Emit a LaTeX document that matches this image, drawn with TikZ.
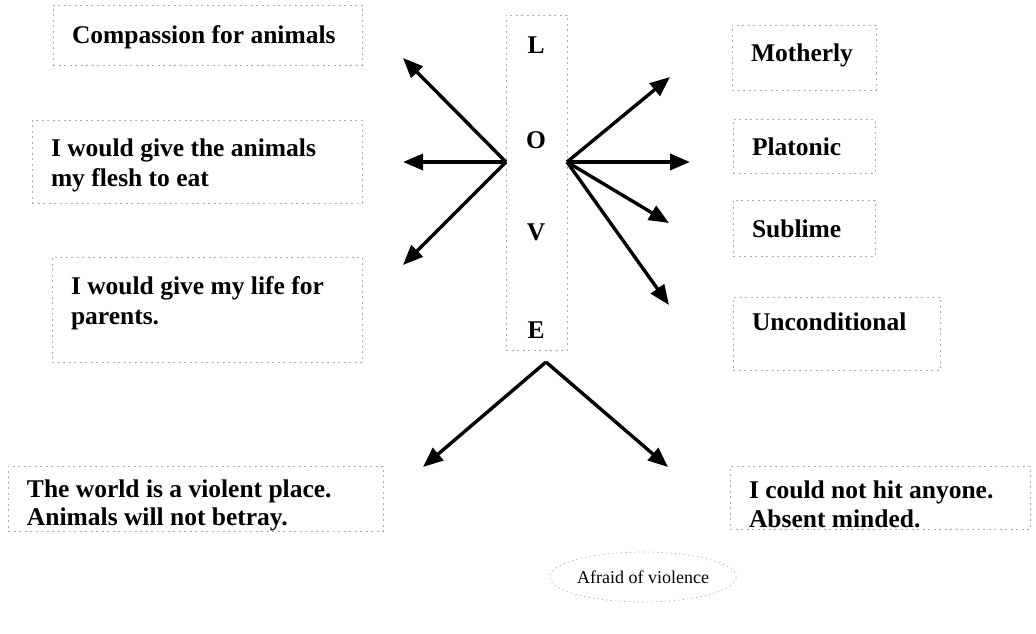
\documentclass[tikz,border=0pt]{standalone}
\usepackage{fontspec}
\setmainfont{Liberation Serif}
\usetikzlibrary{arrows.meta,shapes.geometric}
% #1 width, #2 space above, #3 space below, #4 text
\newcommand{\boxtxt}[4]{\parbox{#1}{\raggedright\vspace*{#2}#4\par\vspace*{#3}}}
\begin{document}
\begin{tikzpicture}[x=1pt,y=-1pt,
  box/.style={draw=gray!65, line width=0.6pt, dash pattern=on 2pt off 3.5pt,
    rectangle, inner ysep=0pt, inner xsep=19pt,
    font=\fontsize{25.5}{30}\selectfont\bfseries},
  letter/.style={inner sep=0pt, font=\fontsize{25.5}{30}\selectfont\bfseries},
  conn/.style={line width=3.4pt, -{Triangle[length=20pt,width=16pt]}},
]
\useasboundingbox (0,0) rectangle (1036,634);

% left boxes
\node[box, minimum width=309pt, minimum height=60pt] (comp) at (207.5,35) {\boxtxt{271pt}{4pt}{0pt}{Compassion for animals}};
\node[box, minimum width=330pt, minimum height=83pt] (flesh) at (197,161.5) {\boxtxt{292pt}{8pt}{0pt}{I would give the animals\\my flesh to eat}};
\node[box, minimum width=310pt, minimum height=105pt] (life) at (207,309.5) {\boxtxt{272pt}{0pt}{13pt}{I would give my life for\\parents.}};

% LOVE column
\node[draw=gray!65, line width=0.6pt, dash pattern=on 2pt off 3.5pt, minimum width=61pt, minimum height=335pt, inner sep=0pt] (love) at (536.5,182.5) {};
\node[letter] (l) at (536,45) {L};
\node[letter] (o) at (536,140) {O};
\node[letter] (v) at (536,232) {V};
\node[letter] (e) at (536,330) {E};

% right boxes
\node[box, minimum width=144pt, minimum height=65pt] (moth) at (804,57.5) {\boxtxt{106pt}{0pt}{5pt}{Motherly}};
\node[box, minimum width=142pt, minimum height=54pt] (plat) at (804,146) {\boxtxt{104pt}{2pt}{0pt}{Platonic}};
\node[box, minimum width=142pt, minimum height=56pt] (subl) at (804,228) {\boxtxt{104pt}{2pt}{0pt}{Sublime}};
\node[box, minimum width=207pt, minimum height=73pt] (unc) at (836.5,333.5) {\boxtxt{169pt}{0pt}{24pt}{Unconditional}};

% bottom boxes
\node[box, minimum width=375pt, minimum height=65pt, font=\fontsize{25.5}{28.5}\selectfont\bfseries] (world) at (195.5,498.5) {\boxtxt{337pt}{7pt}{-7pt}{The world is a violent place.\\Animals will not betray.}};
\node[box, minimum width=300pt, minimum height=63pt, font=\fontsize{25.5}{28.5}\selectfont\bfseries] (hit) at (880,497.5) {\boxtxt{262pt}{7pt}{-7pt}{I could not hit anyone.\\Absent minded.}};

\node[draw=gray!65, line width=0.6pt, dash pattern=on 1.5pt off 3pt, ellipse, minimum width=185pt, minimum height=50pt, inner sep=0pt, font=\fontsize{18}{21}\selectfont] (afraid) at (643,577) {Afraid of violence};

% hubs and arrow ends
\coordinate (lh) at (506,162);
\coordinate (rh) at (567,162);
\coordinate (bh) at (546,362);
\coordinate (a1) at (403,58);
\coordinate (a2) at (403,162);
\coordinate (a3) at (403,265);
\coordinate (b1) at (670,77);
\coordinate (b2) at (690,162);
\coordinate (b3) at (669,223);
\coordinate (b4) at (669,305);
\coordinate (c1) at (423,467);
\coordinate (c2) at (668,467);

\draw[conn] (lh) -- (a1);
\draw[conn] (lh) -- (a2);
\draw[conn] (lh) -- (a3);
\draw[conn] (rh) -- (b1);
\draw[conn] (rh) -- (b2);
\draw[conn] (rh) -- (b3);
\draw[conn] (rh) -- (b4);
\draw[conn] (bh) -- (c1);
\draw[conn] (bh) -- (c2);
\end{tikzpicture}
\end{document}
